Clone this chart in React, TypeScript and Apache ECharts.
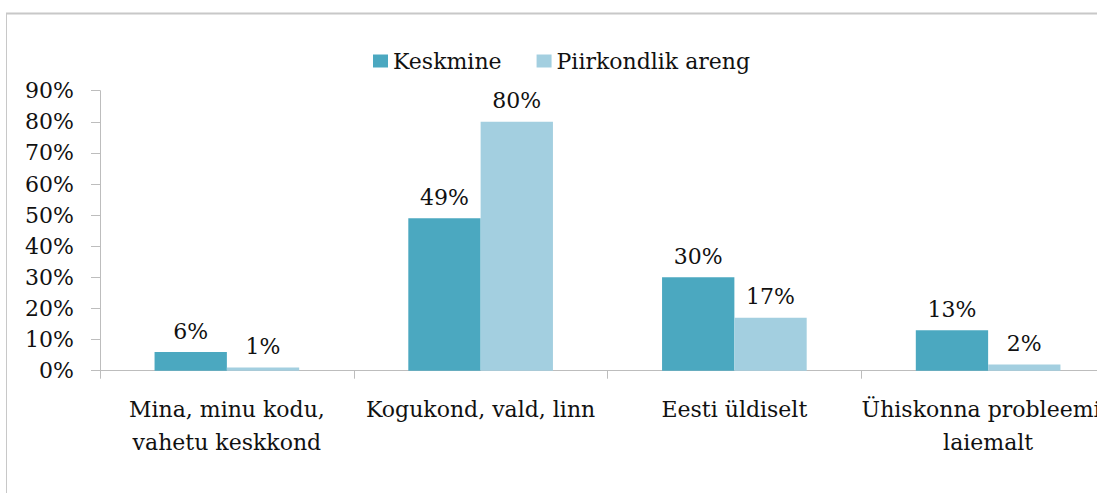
import React, { useEffect, useRef } from "react";
import * as echarts from "echarts";

const categories = [
  "Mina, minu kodu,\nvahetu keskkond",
  "Kogukond, vald, linn",
  "Eesti üldiselt",
  "Ühiskonna probleemid\nlaiemalt",
];
const seriesNames = ["Keskmine", "Piirkondlik areng"];
const keskmine = [6, 49, 30, 13];
const piirkondlik = [1, 80, 17, 2];
const yMax = 90;
const yInterval = 10;

const FONT = "'DejaVu Serif', serif";
const TEXT = "#111111";
const AXIS = "#bdbdbd";
const COLORS = ["#4ba8c0", "#a3cfe0"];

export default function App() {
  const ref = useRef<HTMLDivElement>(null);

  useEffect(() => {
    if (!ref.current) return;
    const chart = echarts.init(ref.current, undefined, { renderer: "svg" });
    const label = {
      show: true,
      position: "top",
      distance: 10,
      formatter: "{c}%",
      fontFamily: FONT,
      fontSize: 22,
      color: TEXT,
    };
    chart.setOption({
      animation: false,
      backgroundColor: "#ffffff",
      textStyle: { fontFamily: FONT },
      graphic: [
        {
          type: "line",
          shape: { x1: 6, y1: 13.5, x2: 1140, y2: 13.5 },
          style: { stroke: "#c8c8c8", lineWidth: 2 },
        },
        {
          type: "line",
          shape: { x1: 6.5, y1: 13, x2: 6.5, y2: 493 },
          style: { stroke: "#c8c8c8", lineWidth: 1 },
        },
      ],
      legend: {
        left: 368,
        top: 45,
        itemWidth: 15,
        itemHeight: 13,
        itemGap: 35,
        icon: "rect",
        textStyle: { fontFamily: FONT, fontSize: 22, color: TEXT },
        data: seriesNames,
      },
      grid: { left: 100, top: 90.7, width: 1015, height: 280, containLabel: false },
      xAxis: {
        type: "category",
        data: categories,
        axisLine: { lineStyle: { color: AXIS, width: 1 } },
        axisTick: { show: true, length: 8, lineStyle: { color: AXIS } },
        axisLabel: {
          interval: 0,
          margin: 22,
          fontFamily: FONT,
          fontSize: 22,
          lineHeight: 33,
          color: TEXT,
          align: "center",
        },
      },
      yAxis: {
        type: "value",
        min: 0,
        max: yMax,
        interval: yInterval,
        splitLine: { show: false },
        axisLine: { show: true, lineStyle: { color: AXIS, width: 1 } },
        axisTick: { show: true, length: 9, lineStyle: { color: AXIS } },
        axisLabel: {
          formatter: "{value}%",
          margin: 26,
          fontFamily: FONT,
          fontSize: 22,
          color: TEXT,
        },
      },
      series: [
        {
          name: seriesNames[0],
          type: "bar",
          data: keskmine,
          barGap: "0%",
          barCategoryGap: "43%",
          itemStyle: { color: COLORS[0] },
          label,
        },
        {
          name: seriesNames[1],
          type: "bar",
          data: piirkondlik,
          barGap: "0%",
          barCategoryGap: "43%",
          itemStyle: { color: COLORS[1] },
          label,
        },
      ],
    });
    return () => chart.dispose();
  }, []);

  return (
    <div
      ref={ref}
      style={{ position: "fixed", left: 0, top: 0, width: 1140, height: 493, background: "#fff" }}
    />
  );
}
